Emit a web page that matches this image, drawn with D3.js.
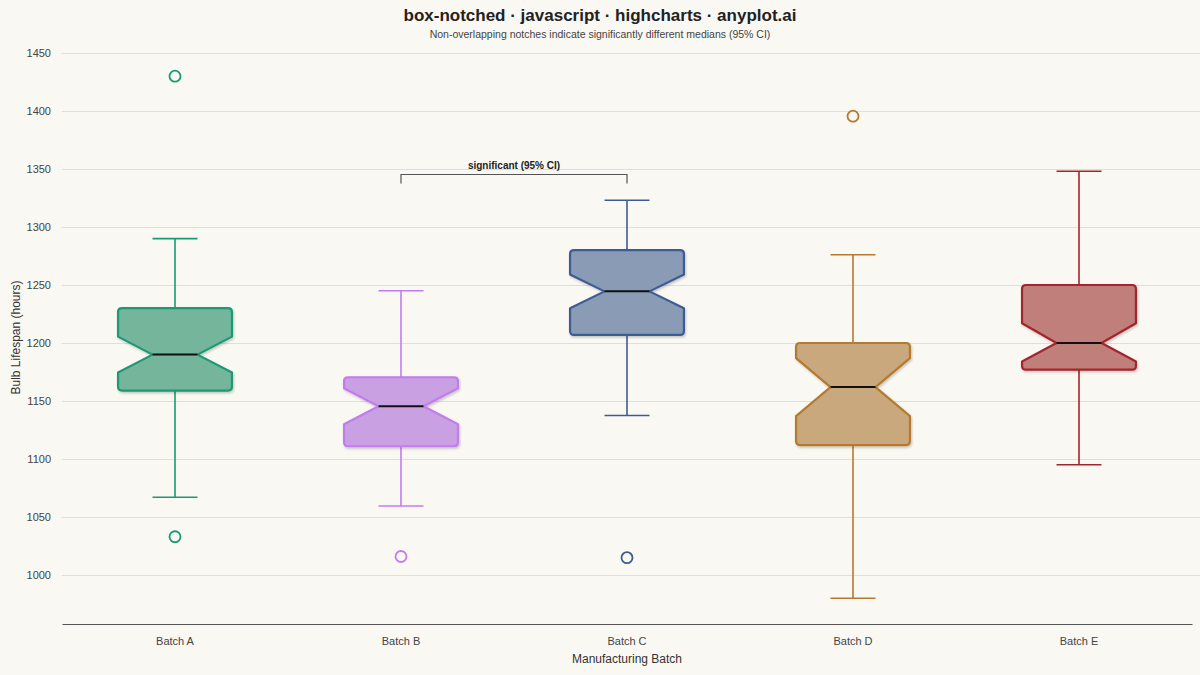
<!DOCTYPE html>
<html>
<head>
<meta charset="utf-8">
<script src="https://cdn.jsdelivr.net/npm/d3@7"></script>
<style>
  body { margin: 0; background: #faf8f2; }
  svg { display: block; font-family: "Liberation Sans", Arial, sans-serif; }
</style>
</head>
<body>
<svg id="chart"></svg>
<script>
// Chart data
const batches = ['Batch A', 'Batch B', 'Batch C', 'Batch D', 'Batch E'];
const lowWhisker = [1067, 1059.5, 1137.5, 980, 1095];
const q1 = [1159, 1111, 1207, 1112, 1177];
const medians = [1190, 1145.5, 1244.5, 1162, 1200];
const q3 = [1230, 1170.5, 1280, 1200, 1250];
const highWhisker = [1290, 1245, 1323, 1276, 1348];
const notchLow = [1174.5, 1130, 1230, 1137, 1184];
const notchHigh = [1205.5, 1161, 1259, 1187, 1217];
const outliers = [[1430, 1033], [1016], [1015], [1395.5], []];
const yTicks = [1000, 1050, 1100, 1150, 1200, 1250, 1300, 1350, 1400, 1450];
const strokeColors = ['#1a9a74', '#c27cf0', '#3e5c93', '#b57a30', '#a3262d'];
const fillColors = ['#74b59b', '#c9a1e2', '#8a9bb5', '#c8a87b', '#c07f7a'];
const sigPair = ['Batch B', 'Batch C'];
const sigLevel = 1346;

const width = 1200, height = 675;
const margin = {top: 41, right: 8, bottom: 51, left: 62};

const svg = d3.select('#chart')
    .attr('width', width)
    .attr('height', height);

svg.append('rect')
    .attr('width', width)
    .attr('height', height)
    .attr('fill', '#faf8f2');

// drop shadow like the highcharts boxes
const defs = svg.append('defs');
defs.append('filter')
    .attr('id', 'shadow')
    .attr('x', '-10%').attr('y', '-10%')
    .attr('width', '130%').attr('height', '130%')
    .append('feDropShadow')
    .attr('dx', 1).attr('dy', 1.5)
    .attr('stdDeviation', 1.2)
    .attr('flood-color', '#000')
    .attr('flood-opacity', 0.22);

const x = d3.scaleBand()
    .domain(batches)
    .range([margin.left, width - margin.right]);

const y = d3.scaleLinear()
    .domain([957.8, 1460.3])
    .range([height - margin.bottom, margin.top]);

// Title + subtitle
svg.append('text')
    .attr('x', width / 2)
    .attr('y', 21)
    .attr('text-anchor', 'middle')
    .style('font-size', '17px')
    .style('font-weight', 'bold')
    .style('fill', '#222')
    .text('box-notched · javascript · highcharts · anyplot.ai');

svg.append('text')
    .attr('x', width / 2)
    .attr('y', 38)
    .attr('text-anchor', 'middle')
    .style('font-size', '10.5px')
    .style('fill', '#444')
    .text('Non-overlapping notches indicate significantly different medians (95% CI)');

// Grid lines
svg.append('g')
    .selectAll('line')
    .data(yTicks)
    .enter()
    .append('line')
    .attr('x1', margin.left)
    .attr('x2', width)
    .attr('y1', d => Math.round(y(d)) + 0.5)
    .attr('y2', d => Math.round(y(d)) + 0.5)
    .attr('stroke', '#e2ded6')
    .attr('stroke-width', 1);

// Y axis labels
const yAxis = svg.append('g')
    .attr('transform', `translate(${margin.left},0)`)
    .call(d3.axisLeft(y).tickValues(yTicks).tickSize(0).tickPadding(11).tickFormat(d3.format('d')));
yAxis.select('.domain').remove();
yAxis.selectAll('text')
    .style('font-size', '11px')
    .style('fill', '#444')
    .style('font-family', '"Liberation Sans", Arial, sans-serif');

svg.append('text')
    .attr('transform', `translate(20,${(margin.top + height - margin.bottom) / 2 + 5}) rotate(-90)`)
    .attr('text-anchor', 'middle')
    .style('font-size', '12px')
    .style('fill', '#333')
    .text('Bulb Lifespan (hours)');

// X axis
const xAxis = svg.append('g')
    .attr('transform', `translate(0,${height - margin.bottom})`)
    .call(d3.axisBottom(x).tickSize(0).tickPadding(13));
xAxis.select('.domain').attr('stroke', '#555').attr('stroke-width', 1);
xAxis.selectAll('text')
    .style('font-size', '11px')
    .style('fill', '#444')
    .style('font-family', '"Liberation Sans", Arial, sans-serif');

svg.append('text')
    .attr('x', (margin.left + width - margin.right) / 2)
    .attr('y', 663)
    .attr('text-anchor', 'middle')
    .style('font-size', '12px')
    .style('fill', '#333')
    .text('Manufacturing Batch');

// Box geometry
const boxHalf = x.bandwidth() * 0.252;
const notchHalf = boxHalf * 0.395;
const corner = 4;

function notchedPath(i) {
    const cx = x(batches[i]) + x.bandwidth() / 2;
    const L = cx - boxHalf, R = cx + boxHalf;
    const top = y(q3[i]), bot = y(q1[i]);
    const nh = y(notchHigh[i]), nl = y(notchLow[i]), m = y(medians[i]);
    const p = d3.path();
    p.moveTo(L + corner, top);
    p.lineTo(R - corner, top);
    p.quadraticCurveTo(R, top, R, top + corner);
    p.lineTo(R, nh);
    p.lineTo(cx + notchHalf, m);
    p.lineTo(R, nl);
    p.lineTo(R, bot - corner);
    p.quadraticCurveTo(R, bot, R - corner, bot);
    p.lineTo(L + corner, bot);
    p.quadraticCurveTo(L, bot, L, bot - corner);
    p.lineTo(L, nl);
    p.lineTo(cx - notchHalf, m);
    p.lineTo(L, nh);
    p.lineTo(L, top + corner);
    p.quadraticCurveTo(L, top, L + corner, top);
    p.closePath();
    return p.toString();
}

const boxes = svg.append('g')
    .selectAll('g.box')
    .data(batches)
    .enter()
    .append('g')
    .attr('class', 'box');

boxes.each(function(name, i) {
    const g = d3.select(this);
    const cx = x(name) + x.bandwidth() / 2;
    const col = strokeColors[i];

    // whisker stems
    g.append('line')
        .attr('x1', cx).attr('x2', cx)
        .attr('y1', y(highWhisker[i])).attr('y2', y(q3[i]))
        .attr('stroke', col).attr('stroke-width', 1.6);
    g.append('line')
        .attr('x1', cx).attr('x2', cx)
        .attr('y1', y(q1[i])).attr('y2', y(lowWhisker[i]))
        .attr('stroke', col).attr('stroke-width', 1.6);

    // caps
    [highWhisker[i], lowWhisker[i]].forEach(v => {
        g.append('line')
            .attr('x1', cx - notchHalf).attr('x2', cx + notchHalf)
            .attr('y1', y(v)).attr('y2', y(v))
            .attr('stroke', col).attr('stroke-width', 1.6);
    });

    // notched box
    g.append('path')
        .attr('d', notchedPath(i))
        .attr('fill', fillColors[i])
        .attr('stroke', col)
        .attr('stroke-width', 2.2)
        .attr('stroke-linejoin', 'round')
        .attr('filter', 'url(#shadow)');

    // median
    g.append('line')
        .attr('x1', cx - notchHalf).attr('x2', cx + notchHalf)
        .attr('y1', y(medians[i])).attr('y2', y(medians[i]))
        .attr('stroke', '#111').attr('stroke-width', 2);

    // outliers
    g.selectAll('circle')
        .data(outliers[i])
        .enter()
        .append('circle')
        .attr('cx', cx)
        .attr('cy', d => y(d))
        .attr('r', 5.5)
        .attr('fill', 'none')
        .attr('stroke', col)
        .attr('stroke-width', 1.8);
});

// Significance bracket
const bx1 = x(sigPair[0]) + x.bandwidth() / 2;
const bx2 = x(sigPair[1]) + x.bandwidth() / 2;
const by = Math.round(y(sigLevel)) + 0.5;
svg.append('path')
    .attr('d', `M${bx1},${by + 9}V${by}H${bx2}V${by + 9}`)
    .attr('fill', 'none')
    .attr('stroke', '#555')
    .attr('stroke-width', 1.2);
svg.append('text')
    .attr('x', (bx1 + bx2) / 2)
    .attr('y', by - 6)
    .attr('text-anchor', 'middle')
    .style('font-size', '10px')
    .style('font-weight', 'bold')
    .style('fill', '#222')
    .text('significant (95% CI)');
</script>
</body>
</html>
